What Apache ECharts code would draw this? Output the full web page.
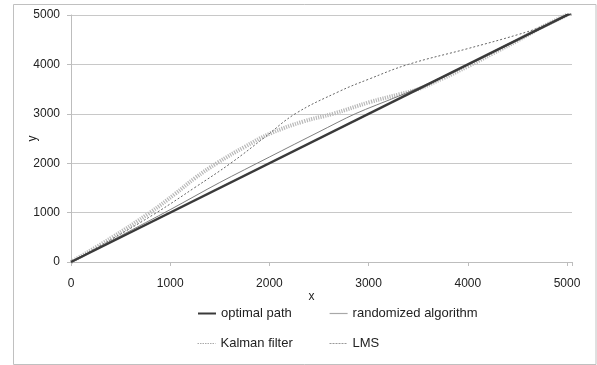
<!DOCTYPE html>
<html>
<head>
<meta charset="utf-8">
<script src="https://cdn.jsdelivr.net/npm/echarts@6/dist/echarts.min.js"></script>
<style>
  html, body { margin: 0; padding: 0; background: #fff; }
  #main { width: 597px; height: 365px; }
</style>
</head>
<body>
<div id="main"></div>
<script>
var seriesNames = ['optimal path', 'randomized algorithm', 'Kalman filter', 'LMS'];
var xTicks = [0, 1000, 2000, 3000, 4000, 5000];
var yTicks = [0, 1000, 2000, 3000, 4000, 5000];

// [x, y] pairs
var optimalPath = [[0, 0], [5040, 5040]];
var randomized = [[0, 0], [500, 530], [1000, 1060], [1500, 1610], [2000, 2125], [2500, 2635],
  [2865, 3000], [3300, 3355], [3600, 3610], [4000, 4000], [5040, 5040]];
var kalman = [[0, 0], [400, 450], [863, 1000], [1250, 1510], [1610, 2000], [1950, 2520],
  [2260, 3000], [2700, 3450], [3000, 3700], [3400, 4000], [4000, 4320], [4500, 4600],
  [4750, 4770], [5040, 5040]];
var lms = [[0, 0], [400, 480], [796, 1000], [1050, 1380], [1250, 1700], [1470, 2000],
  [1750, 2330], [2007, 2600], [2344, 2846], [2640, 3000], [3017, 3240], [3320, 3400],
  [3500, 3500], [3750, 3720], [4000, 3960], [4250, 4220], [4500, 4480], [4750, 4760],
  [5040, 5040]];

var font = 'Liberation Sans';
var textColor = '#222';
var myChart = echarts.init(document.getElementById('main'));

function legendAt(name, left, top, extra) {
  var item = { name: name };
  if (extra) item.lineStyle = extra;
  return {
    data: [item],
    left: left,
    top: top,
    itemWidth: 18,
    itemHeight: 10,
    itemGap: 4,
    padding: 0,
    itemStyle: { opacity: 0 },
    textStyle: { color: textColor, fontSize: 13, fontFamily: font }
  };
}

var options = {
  backgroundColor: '#fff',
  animation: false,
  textStyle: { fontFamily: font },
  grid: { left: 71, right: 25, top: 15, bottom: 103 },
  legend: [
    legendAt(seriesNames[0], 197, 307),
    legendAt(seriesNames[1], 329, 307, { color: '#a8a8a8', width: 1.2 }),
    legendAt(seriesNames[2], 197, 337, { color: '#aaa', width: 1, type: [1.5, 1] }),
    legendAt(seriesNames[3], 329, 337, { color: '#999', width: 1, type: [2, 1] })
  ],
  graphic: [{
    type: 'rect',
    silent: true,
    z: -1,
    shape: { x: 13.5, y: 4.5, width: 582.5, height: 360 },
    style: { fill: 'none', stroke: '#c0c0c0', lineWidth: 1 }
  }],
  xAxis: {
    type: 'value',
    min: 0,
    max: 5050,
    interval: 1000,
    name: 'x',
    nameLocation: 'middle',
    nameGap: 29,
    nameMoveOverlap: false,
    nameTextStyle: { color: textColor, fontSize: 12, padding: [0, 20, 0, 0] },
    axisLine: { lineStyle: { color: '#bdbdbd' } },
    axisTick: { show: true, length: 4, lineStyle: { color: '#bdbdbd' } },
    axisLabel: {
      color: textColor,
      fontSize: 12,
      margin: 16,
      formatter: function (v) { return xTicks.indexOf(v) > -1 ? String(v) : ''; }
    },
    splitLine: { show: false }
  },
  yAxis: {
    type: 'value',
    min: 0,
    max: 5000,
    interval: 1000,
    name: 'y',
    nameLocation: 'middle',
    nameRotate: 90,
    nameGap: 32,
    nameMoveOverlap: false,
    nameTextStyle: { color: textColor, fontSize: 12 },
    axisLine: { show: true, lineStyle: { color: '#bdbdbd' } },
    axisTick: { show: true, length: 4, lineStyle: { color: '#bdbdbd' } },
    axisLabel: {
      color: textColor,
      fontSize: 12,
      margin: 11,
      formatter: function (v) { return yTicks.indexOf(v) > -1 ? String(v) : ''; }
    },
    splitLine: { lineStyle: { color: '#c8c8c8' } }
  },
  series: [
    {
      name: seriesNames[3],
      type: 'line',
      data: lms,
      smooth: 0.4,
      symbol: 'none',
      z: 1,
      color: '#b8b8b8',
      lineStyle: { color: '#b8b8b8', width: 4, type: [1.2, 1.2] }
    },
    {
      name: seriesNames[2],
      type: 'line',
      data: kalman,
      smooth: 0.4,
      symbol: 'none',
      z: 2,
      color: '#666',
      lineStyle: { color: '#666', width: 1, type: [2, 2] }
    },
    {
      name: seriesNames[1],
      type: 'line',
      data: randomized,
      smooth: 0.3,
      symbol: 'none',
      z: 3,
      color: '#707070',
      lineStyle: { color: '#707070', width: 0.9 }
    },
    {
      name: seriesNames[0],
      type: 'line',
      data: optimalPath,
      symbol: 'none',
      z: 4,
      color: '#3a3a3a',
      lineStyle: { color: '#3a3a3a', width: 2.5 }
    }
  ]
};

myChart.setOption(options);
window.addEventListener('resize', function () {
  myChart.resize();
});
</script>
</body>
</html>
